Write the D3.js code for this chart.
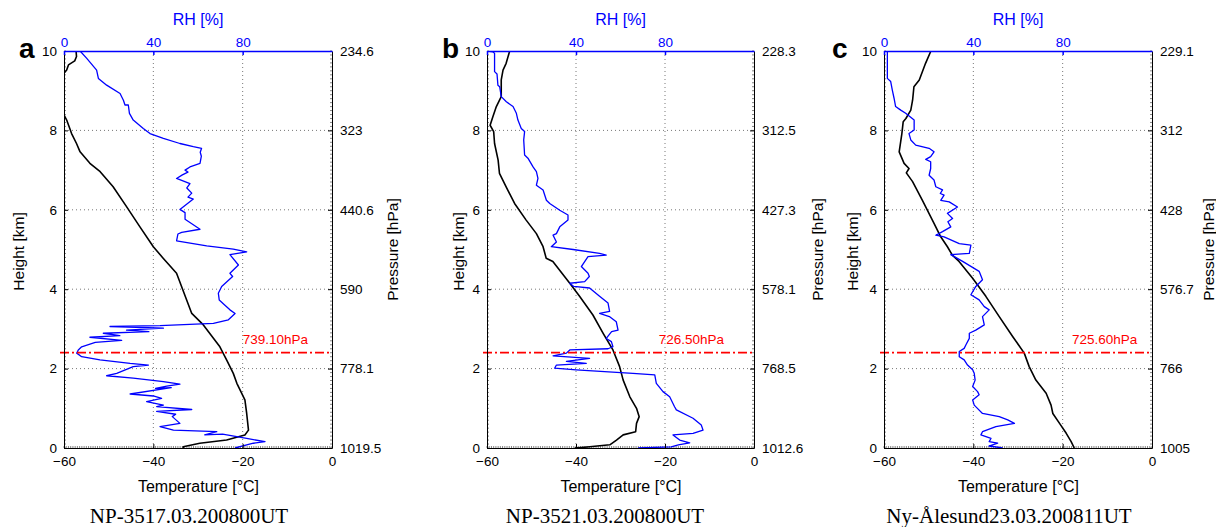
<!DOCTYPE html>
<html>
<head>
<meta charset="utf-8">
<script src="https://cdn.jsdelivr.net/npm/d3@7"></script>
<style>
  html, body { margin: 0; padding: 0; background: #fff; }
  svg { display: block; }
</style>
</head>
<body>
<svg id="chart" width="1216" height="527"></svg>
<script>
// ---------------- DATA ----------------
const heightTicks = [0, 2, 4, 6, 8, 10];
const tempTicks = [-60, -40, -20, 0];
const rhTicks = [0, 40, 80];
const panelLetters = ["a", "b", "c"];
const captions = ["NP-3517.03.200800UT", "NP-3521.03.200800UT", "Ny-Ålesund23.03.200811UT"];
const pressureA = ["1019.5", "778.1", "590", "440.6", "323", "234.6"];
const pressureB = ["1012.6", "768.5", "578.1", "427.3", "312.5", "228.3"];
const pressureC = ["1005", "766", "576.7", "428", "312", "229.1"];
const inversionLabels = ["739.10hPa", "726.50hPa", "725.60hPa"];
const inversionHeight = [2.4, 2.4, 2.4];
const inversionLabelT = [-20, -21.4, -17.9];

// [height km, temperature °C]
const tempA = [[10,-57.3],[9.86,-57.2],[9.75,-57.6],[9.65,-59.0],[9.52,-59.4],[9.44,-60],[9.2,-61],[8.8,-61.5],[8.39,-60],[8.26,-59.4],[7.92,-58.3],[7.67,-57.2],[7.46,-56.4],[7.17,-54.2],[6.96,-51.9],[6.58,-49.0],[6.08,-46.0],[5.57,-43.0],[5.07,-40.0],[4.78,-37.8],[4.40,-34.8],[3.39,-31.4],[3.10,-28.8],[2.55,-25.1],[2.22,-23.6],[1.88,-22.1],[1.63,-21.3],[1.21,-19.5],[0.87,-19.1],[0.45,-18.7],[0.33,-19.5],[0.20,-23.6],[0.12,-29.6],[0.03,-33.3],[0,-33.3]];
const tempB = [[10,-54.9],[9.69,-55.7],[9.52,-56.4],[9.27,-56.8],[8.85,-56.8],[8.60,-57.9],[8.34,-58.7],[8.13,-59.3],[7.97,-58.5],[7.67,-58.3],[7.25,-57.5],[6.92,-57.2],[6.58,-55.7],[6.16,-53.8],[5.74,-51.2],[5.40,-48.9],[5.07,-47.4],[4.78,-46.7],[4.70,-45.2],[4.15,-41.4],[3.82,-39.2],[3.35,-36.2],[2.89,-33.9],[2.47,-31.7],[2.05,-30.2],[1.71,-29.4],[1.29,-27.9],[1.0,-26.4],[0.79,-25.8],[0.62,-26.4],[0.41,-26.6],[0.33,-29.4],[0.20,-30.9],[0.08,-32.4],[0.03,-36.9],[0,-40.3]];
const tempC = [[10,-49.5],[9.69,-50.7],[9.27,-52.1],[9.10,-53.3],[8.76,-53.6],[8.51,-54.0],[8.30,-55.1],[8.22,-55.7],[7.92,-56.0],[7.46,-56.6],[7.17,-55.5],[7.04,-54.4],[6.93,-55.0],[6.71,-53.6],[6.24,-51.4],[5.66,-48.8],[5.32,-47.3],[5.07,-45.8],[4.86,-44.7],[4.70,-43.2],[4.28,-40.2],[3.82,-37.2],[3.31,-34.2],[2.81,-31.2],[2.39,-28.6],[2.05,-27.5],[1.71,-26.0],[1.38,-23.7],[1.08,-22.6],[0.87,-22.2],[0.62,-20.7],[0.37,-19.2],[0.16,-18.1],[0,-17.4]];

// [height km, relative humidity %]
const rhA = [[10,7.2],[9.82,10.1],[9.52,14.6],[9.31,15.4],[9.14,19.1],[8.93,25.1],[8.76,26.6],[8.64,27.3],[8.64,28.8],[8.43,29.3],[8.26,31.0],[8.05,35.5],[7.92,38.5],[7.80,44.5],[7.67,51.9],[7.59,57.9],[7.55,61.6],[7.45,61.0],[7.35,61.5],[7.17,60.9],[7.08,56.4],[7.0,54.2],[6.95,55.5],[6.88,53],[6.79,50.4],[6.66,56.4],[6.55,55],[6.42,57.2],[6.32,55.5],[6.27,57.9],[6.01,51.9],[5.93,54.2],[5.76,54.2],[5.51,60.9],[5.43,52.7],[5.39,51],[5.22,50.4],[5.09,63.9],[5.01,75.8],[4.94,81.8],[4.87,74.3],[4.61,78.1],[4.40,74.3],[4.32,75.5],[4.07,70.6],[3.90,69.1],[3.73,69.5],[3.56,72.8],[3.48,74.3],[3.39,76.6],[3.23,73.6],[3.14,66.9],[3.08,43.0],[3.06,20.6],[3.02,44.5],[2.97,28],[2.93,38],[2.89,17.6],[2.83,25],[2.79,11.6],[2.71,25.8],[2.66,14],[2.55,7.9],[2.47,6.4],[2.39,5.7],[2.30,7.9],[2.22,16.1],[2.13,29.6],[2.09,37.8],[2.05,31],[1.88,23.6],[1.82,19.1],[1.76,31],[1.67,44.5],[1.61,51.9],[1.56,46],[1.50,41],[1.52,48],[1.36,29.6],[1.31,40],[1.25,43.7],[1.17,37.0],[1.08,44.5],[1.04,41.5],[0.97,57.2],[0.92,41.5],[0.85,50],[0.79,48.5],[0.62,51.9],[0.54,43.0],[0.45,49],[0.41,68.4],[0.33,63],[0.35,71],[0.24,81.8],[0.16,90.0],[0.12,84.8],[0,76.6]];
const rhB = [[10,0.4],[9.98,2.7],[9.94,3.4],[9.48,3.4],[9.42,4.5],[9.14,4.9],[9.10,5.7],[8.85,6.4],[8.72,8.7],[8.60,11.7],[8.43,13.2],[8.26,13.9],[8.05,15.4],[7.97,16.9],[7.76,16.5],[7.38,16.9],[7.30,18.4],[7.08,20.7],[6.96,22.2],[6.79,22.9],[6.62,22.2],[6.50,25.2],[6.24,26.7],[6.16,28.2],[5.99,32.7],[5.87,36.4],[5.74,36.4],[5.57,32.7],[5.40,31.2],[5.36,29.7],[5.19,31.2],[5.07,28.9],[5.0,38.7],[4.90,50.6],[4.86,53.6],[4.82,45.4],[4.57,42.4],[4.40,45.4],[4.32,46],[4.19,43.9],[4.15,37.2],[4.07,39],[4.03,46.1],[3.82,50.6],[3.65,54.4],[3.44,55.1],[3.39,50.6],[3.31,55],[3.18,58.1],[2.97,58.9],[2.93,56],[2.76,53.6],[2.68,55.9],[2.55,56.6],[2.50,54.4],[2.47,37.2],[2.39,35.7],[2.32,29.7],[2.26,46.1],[2.18,35.7],[2.13,44.6],[2.09,31.2],[2.01,30.4],[1.97,40.1],[1.88,65.6],[1.84,75.4],[1.63,76.1],[1.42,79.1],[1.29,82.1],[1.04,84.3],[0.96,85.1],[0.75,92.6],[0.58,96.3],[0.45,97.1],[0.37,92.6],[0.33,83.6],[0.20,86.6],[0.13,91.1],[0.08,86],[0.03,82.8],[0,67.9]];
const rhC = [[10,1.5],[9.31,1.5],[9.23,3.0],[9.02,3.7],[8.81,4.5],[8.60,5.2],[8.51,7.5],[8.43,9.7],[8.26,13.5],[8.01,13.5],[7.92,11.2],[7.76,12.0],[7.63,14.2],[7.55,20.2],[7.46,22.4],[7.34,20.9],[7.27,18.7],[7.21,20.9],[7.04,20.9],[6.87,20.2],[6.75,22.4],[6.58,23.2],[6.50,26.2],[6.41,25.2],[6.37,26.9],[6.24,25.4],[6.20,29.2],[6.07,32.9],[5.91,28.4],[5.78,30.7],[5.70,28.6],[5.57,29.9],[5.45,26.2],[5.36,23.2],[5.32,26.9],[5.15,33.7],[5.11,38.9],[4.90,38.2],[4.87,29.9],[4.70,35.2],[4.45,42.6],[4.24,44.1],[4.07,41.1],[3.86,38.9],[3.73,42.6],[3.56,44.9],[3.48,47.1],[3.31,44.1],[3.10,44.9],[2.97,41.1],[2.89,38.2],[2.76,38.2],[2.60,36.7],[2.51,35.9],[2.43,33.7],[2.30,33.7],[2.22,35.9],[2.09,37.4],[1.97,39.7],[1.88,40.4],[1.71,40.8],[1.55,39.7],[1.42,41.9],[1.34,42.6],[1.21,39.7],[1.08,40.4],[0.87,44.1],[0.79,51.6],[0.71,55.4],[0.62,58.4],[0.54,50.1],[0.41,44.1],[0.33,43.4],[0.24,47.9],[0.16,47.1],[0.12,50.9],[0.05,47],[0,53.1]];

// ---------------- LAYOUT ----------------
const panels = [
  { x0: 64,  x1: 332,  temp: tempA, rh: rhA, press: pressureA, letterX: 19,  hLabelX: 19,  pLabelX: 393,  capX: 189 },
  { x0: 487, x1: 754,  temp: tempB, rh: rhB, press: pressureB, letterX: 442, hLabelX: 459, pLabelX: 818,  capX: 605 },
  { x0: 884, x1: 1152, temp: tempC, rh: rhC, press: pressureC, letterX: 832, hLabelX: 853, pLabelX: 1209, capX: 1009 }
];
const yTop = 51, yBot = 448;
const blue = "#0000ff", red = "#ff0000";
const SANS = '"Liberation Sans", Arial, sans-serif';
const SERIF = '"Liberation Serif", "Times New Roman", serif';

const svg = d3.select("#chart");
const y = d3.scaleLinear().domain([0, 10]).range([yBot, yTop]);

panels.forEach((p, i) => {
  const xT = d3.scaleLinear().domain([-60, 0]).range([p.x0, p.x1]);
  const xR = d3.scaleLinear().domain([0, 120]).range([p.x0, p.x1]);
  const g = svg.append("g").style("font-family", SANS);

  const clipId = "clip" + i;
  svg.append("clipPath").attr("id", clipId).append("rect")
    .attr("x", p.x0).attr("y", yTop).attr("width", p.x1 - p.x0).attr("height", yBot - yTop);

  // grid
  const grid = g.append("g").attr("stroke", "#555").attr("stroke-width", 0.8).attr("stroke-dasharray", "1,3");
  [-40, -20].forEach(t => grid.append("line").attr("x1", xT(t)).attr("x2", xT(t)).attr("y1", yTop).attr("y2", yBot));
  [2, 4, 6, 8].forEach(h => grid.append("line").attr("x1", p.x0).attr("x2", p.x1).attr("y1", y(h)).attr("y2", y(h)));

  // minor ticks (inward)
  const minor = g.append("g").attr("stroke", "#333").attr("stroke-width", 0.6);
  d3.range(-60, 0.01, 0.5).forEach(t => minor.append("line").attr("x1", xT(t)).attr("x2", xT(t)).attr("y1", yBot).attr("y2", yBot - 2));
  d3.range(0, 10.01, 0.1).forEach(h => {
    minor.append("line").attr("x1", p.x0).attr("x2", p.x0 + 2).attr("y1", y(h)).attr("y2", y(h));
    minor.append("line").attr("x1", p.x1).attr("x2", p.x1 - 2).attr("y1", y(h)).attr("y2", y(h));
  });

  const plot = g.append("g").attr("clip-path", `url(#${clipId})`);
  plot.append("path").datum(p.temp)
    .attr("d", d3.line().x(d => xT(d[1])).y(d => y(d[0])))
    .attr("fill", "none").attr("stroke", "#000").attr("stroke-width", 1.6).attr("stroke-linejoin", "round");
  plot.append("path").datum(p.rh)
    .attr("d", d3.line().x(d => xR(d[1])).y(d => y(d[0])))
    .attr("fill", "none").attr("stroke", blue).attr("stroke-width", 1.3).attr("stroke-linejoin", "round");

  // inversion line
  g.append("line").attr("x1", p.x0 - 4).attr("x2", p.x1).attr("y1", y(inversionHeight[i])).attr("y2", y(inversionHeight[i]))
    .attr("stroke", red).attr("stroke-width", 1.8).attr("stroke-dasharray", "9,3,2,3");
  g.append("text").attr("x", xT(inversionLabelT[i])).attr("y", y(inversionHeight[i]) - 9)
    .attr("fill", red).style("font-size", "13.5px").text(inversionLabels[i]);

  // axes
  const fmt = d => d < 0 ? "−" + Math.abs(d) : String(d);
  const bottom = g.append("g").attr("transform", `translate(0,${yBot})`)
    .call(d3.axisBottom(xT).tickValues(tempTicks).tickFormat(fmt).tickSizeInner(-4).tickSizeOuter(0).tickPadding(8));
  const left = g.append("g").attr("transform", `translate(${p.x0},0)`)
    .call(d3.axisLeft(y).tickValues(heightTicks).tickSizeInner(-4).tickSizeOuter(0).tickPadding(7));
  const right = g.append("g").attr("transform", `translate(${p.x1},0)`)
    .call(d3.axisRight(y).tickValues(heightTicks).tickFormat((d, k) => p.press[k]).tickSizeInner(-4).tickSizeOuter(0).tickPadding(8));
  const top = g.append("g").attr("transform", `translate(0,${yTop})`)
    .call(d3.axisTop(xR).tickValues(rhTicks).tickSizeInner(-4).tickSizeOuter(0).tickPadding(4));

  [bottom, left, right].forEach(a => {
    a.attr("font-family", null).attr("font-size", null);
    a.selectAll("text").style("font-size", "13.5px").attr("fill", "#000");
    a.selectAll("line, path").attr("stroke", "#000");
  });
  top.attr("font-family", null).attr("font-size", null);
  top.selectAll("text").style("font-size", "13.5px").attr("fill", blue);
  top.selectAll("line, path").attr("stroke", blue).attr("stroke-width", 1.5);

  // axis titles
  g.append("text").attr("x", (p.x0 + p.x1) / 2).attr("y", 25).attr("text-anchor", "middle")
    .attr("fill", blue).style("font-size", "16px").text("RH [%]");
  g.append("text").attr("x", (p.x0 + p.x1) / 2 + 0.5).attr("y", 492).attr("text-anchor", "middle")
    .style("font-size", "16px").text("Temperature [°C]");
  g.append("text").attr("transform", `translate(${p.hLabelX + 5},${(yTop + yBot) / 2 + 2}) rotate(-90)`)
    .attr("text-anchor", "middle").style("font-size", "15.5px").text("Height [km]");
  g.append("text").attr("transform", `translate(${p.pLabelX + 5},${(yTop + yBot) / 2}) rotate(-90)`)
    .attr("text-anchor", "middle").style("font-size", "15.5px").text("Pressure [hPa]");

  // panel letter
  g.append("text").attr("x", p.letterX).attr("y", 58).style("font-size", "28px").style("font-weight", "bold")
    .text(panelLetters[i]);

  // caption
  g.append("text").attr("x", p.capX).attr("y", 523).attr("text-anchor", "middle")
    .style("font-family", SERIF).style("font-size", "21px")
    .text(captions[i]);
});
</script>
</body>
</html>
